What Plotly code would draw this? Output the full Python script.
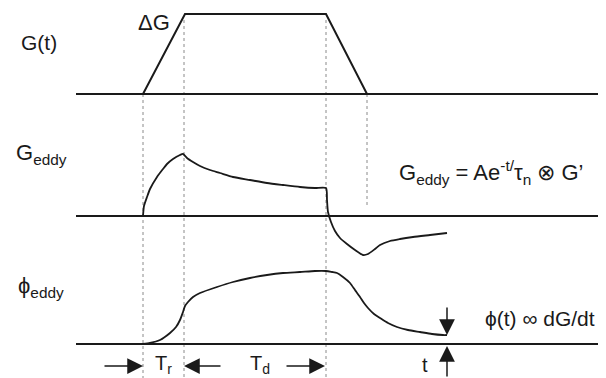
import plotly.graph_objects as go

# Schematic coordinates: x = time axis, y = vertical position (axis reversed)
# Gradient waveform G(t)
g_t_x = [76, 143, 185, 326, 367, 606]
g_t_y = [94, 94, 14, 14, 94, 94]

# Eddy-current field G_eddy
g_eddy_x = [143, 144, 147, 150, 157, 163, 167, 173, 180, 183, 187, 193, 200, 210, 220, 233,
            250, 267, 283, 300, 315, 326, 327, 328, 331, 335, 340, 347, 355, 363, 368,
            375, 380, 390, 400, 413, 430, 447]
g_eddy_y = [216, 206, 197, 189, 177, 169, 164, 159, 155, 154, 158, 162, 166, 170, 173, 177,
            180, 183, 185, 187, 188, 188, 200, 212, 222, 231, 238, 244, 250, 255, 254,
            249, 245, 241, 239, 237, 235, 233]

# Eddy phase phi_eddy
phi_x = [143, 150, 160, 170, 176, 180, 183, 185, 188, 193, 200, 217, 233, 250, 267, 283,
         300, 315, 326, 332, 337, 343, 350, 355, 360, 364, 368, 374, 380, 388, 397, 408,
         420, 432, 443, 447]
phi_y = [344, 343, 340, 333, 327, 320, 312, 306, 302, 297, 293, 287, 282, 278, 275, 273,
         272, 271, 271, 272, 273, 277, 283, 290, 297, 303, 308, 314, 318, 323, 327, 330,
         332, 334, 335, 335]

# Baselines
base_y = [94, 216, 344]
base_x = [76, 606]

# Timing markers (dotted) : x, y_top, y_bottom
mark_x = [143, 184, 326, 367]
mark_top = [94, 20, 20, 94]
mark_bot = [378, 378, 378, 208]

ink = "#1a1a1a"
fig = go.Figure()

for x0, y0, y1 in zip(mark_x, mark_top, mark_bot):
    fig.add_trace(go.Scatter(x=[x0, x0], y=[y0, y1], mode="lines",
                             line=dict(color="#8a8a8a", width=1, dash="dot"),
                             hoverinfo="skip"))
for yb in base_y:
    fig.add_trace(go.Scatter(x=base_x, y=[yb, yb], mode="lines",
                             line=dict(color=ink, width=2), hoverinfo="skip"))

fig.add_trace(go.Scatter(x=g_t_x, y=g_t_y, mode="lines",
                         line=dict(color=ink, width=2), hoverinfo="skip"))
fig.add_trace(go.Scatter(x=g_eddy_x, y=g_eddy_y, mode="lines",
                         line=dict(color=ink, width=1.8, shape="spline", smoothing=0.6),
                         hoverinfo="skip"))
fig.add_trace(go.Scatter(x=phi_x, y=phi_y, mode="lines",
                         line=dict(color=ink, width=1.8, shape="spline", smoothing=0.6),
                         hoverinfo="skip"))

font = "Arial, Liberation Sans, Helvetica, sans-serif"
labels = [
    ("G(t)", 39, 42, 21),
    ("ΔG", 154, 22, 22),
    ("G<sub>eddy</sub>", 41, 154, 22),
    ("ϕ<sub>eddy</sub>", 41, 287, 22),
    ("G<sub>eddy</sub> = Ae<sup>-t/</sup>τ<sub>n</sub> ⊗ G’", 491, 172, 22),
    ("ϕ(t) ∞ dG/dt", 540, 318, 21),
    ("T<sub>r</sub>", 163, 364, 20),
    ("T<sub>d</sub>", 260, 364, 20),
    ("t", 425, 365, 20),
]
anns = []
for txt, x, y, s in labels:
    anns.append(dict(text=txt, x=x, y=y, xref="x", yref="y", showarrow=False,
                     xanchor="center", yanchor="middle",
                     font=dict(family=font, size=s, color=ink)))

# arrows: (tip_x, tip_y, tail_x, tail_y)
arrows = [(143, 366, 103, 366), (184, 366, 222, 366), (325, 366, 285, 366),
          (447, 335, 447, 306), (447, 346, 447, 378)]
for tx, ty, ax, ay in arrows:
    anns.append(dict(text="", x=tx, y=ty, ax=ax, ay=ay, xref="x", yref="y",
                     axref="x", ayref="y", showarrow=True, arrowhead=2,
                     arrowsize=2.1, arrowwidth=1.5, arrowcolor=ink))

# The page body has an 8px margin: size the figure and shift ranges to compensate.
fig.update_layout(
    width=598, height=370, margin=dict(l=0, r=0, t=0, b=0),
    paper_bgcolor="white", plot_bgcolor="white", showlegend=False,
    xaxis=dict(range=[8, 606], visible=False, fixedrange=True),
    yaxis=dict(range=[378, 8], visible=False, fixedrange=True),
    annotations=anns,
)
fig.write_html("out.html")
